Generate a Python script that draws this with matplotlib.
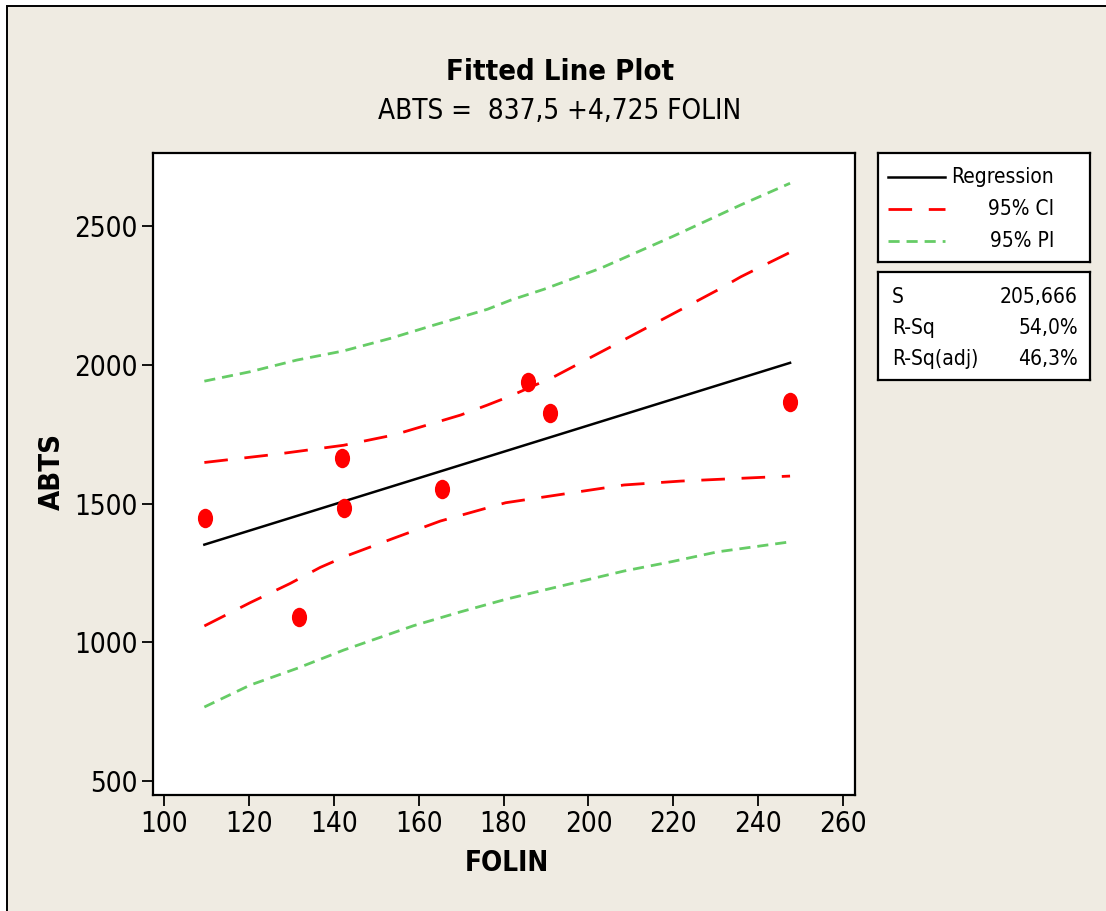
import matplotlib
matplotlib.use("Agg")
import matplotlib.pyplot as plt
from matplotlib import font_manager
from matplotlib.patches import Rectangle
from matplotlib.lines import Line2D
from matplotlib.path import Path
from matplotlib.transforms import Affine2D

# data
folin = [109.7, 131.9, 141.9, 142.3, 165.4, 185.8, 190.9, 247.5]
abts = [1449, 1090, 1663, 1483, 1551, 1937, 1825, 1867]

reg_x = [109.5, 247.5]
reg_y = [1352, 2007]

ci_up_x = [109.5, 126.6, 142.3, 154.1, 169.9, 176.2, 181.7, 191.9, 205.3, 218.6, 230.4, 235.9, 241.4, 247.5]
ci_up_y = [1648, 1678, 1710, 1747, 1819, 1855, 1888, 1957, 2065, 2173, 2269, 2317, 2359, 2405]
ci_lo_x = [109.5, 120.3, 129.7, 136.8, 143.1, 154.1, 165.1, 180.5, 208.4, 221.8, 235.9, 247.5]
ci_lo_y = [1059, 1143, 1212, 1270, 1312, 1375, 1437, 1503, 1567, 1581, 1591, 1599]

pi_up_x = [109.5, 120.3, 131.3, 142.3, 153.3, 163.6, 176.2, 181.7, 189.5, 202.9, 219.8, 235.9, 247.5]
pi_up_y = [1941, 1975, 2017, 2050, 2095, 2143, 2200, 2233, 2272, 2348, 2462, 2576, 2654]
pi_lo_x = [109.5, 120.3, 131.3, 142.3, 158.8, 169.9, 180.5, 191.9, 208.4, 219.4, 230.4, 247.5]
pi_lo_y = [767, 846, 906, 972, 1060, 1110, 1155, 1197, 1257, 1290, 1326, 1362]

xticks = [100, 120, 140, 160, 180, 200, 220, 240, 260]
yticks = [500, 1000, 1500, 2000, 2500]

stats_names = ["S", "R-Sq", "R-Sq(adj)"]
stats_vals = ["205,666", "54,0%", "46,3%"]


def narrow_font(weight):
    # look for a condensed / narrow face among the installed fonts
    best = None
    for f in font_manager.fontManager.ttflist:
        narrow = ("condensed" in str(f.stretch) or "Condensed" in f.name
                  or "Narrow" in f.name or "Condensed" in f.fname)
        if not narrow or f.style != "normal":
            continue
        w = f.weight if isinstance(f.weight, int) else font_manager.weight_dict.get(f.weight, 400)
        if "Semi" in f.fname or "Extra" in f.fname or "Ultra" in f.fname:
            continue
        score = abs(w - weight)
        if best is None or score < best[0]:
            best = (score, f.fname)
    if best is not None:
        return font_manager.FontProperties(fname=best[1])
    return font_manager.FontProperties(family="Liberation Sans",
                                       weight="bold" if weight > 500 else "normal")


REG = narrow_font(400)
BOLD = narrow_font(700)


def fp(base, size):
    p = base.copy()
    p.set_size(size)
    return p


BG = "#efebe2"
RED = "#ff0000"
GREEN = "#66cc66"
W, H = 1106, 911

fig = plt.figure(figsize=(W / 100, H / 100), dpi=100, facecolor="white")
fig.patches.append(Rectangle((7 / W, -0.2), 1.2, 0.2 + (H - 6) / H, transform=fig.transFigure,
                             facecolor=BG, edgecolor="black", linewidth=1.4, zorder=-10))

ax = fig.add_axes([153 / W, 1 - 795 / H, 702 / W, 642 / H])
ax.set_facecolor("white")
ax.plot(pi_up_x, pi_up_y, color=GREEN, lw=2, dashes=(4, 2.5))
ax.plot(pi_lo_x, pi_lo_y, color=GREEN, lw=2, dashes=(4, 2.5))
ax.plot(ci_up_x, ci_up_y, color=RED, lw=2, dashes=(8.5, 6))
ax.plot(ci_lo_x, ci_lo_y, color=RED, lw=2, dashes=(8.5, 6))
ax.plot(reg_x, reg_y, color="black", lw=1.8)

ell = Path.unit_circle().transformed(Affine2D().scale(0.78, 1.0))
ax.plot(folin, abts, linestyle="none", marker=ell, markersize=14,
        color=RED, markeredgewidth=0)

ax.set_xlim(97.4, 262.8)
ax.set_ylim(450, 2763)
ax.set_xticks(xticks)
ax.set_yticks(yticks)
ax.tick_params(direction="out", length=8, width=1.3, pad=3, colors="black")
for lab in ax.get_xticklabels() + ax.get_yticklabels():
    lab.set_fontproperties(fp(REG, 20))
for s in ax.spines.values():
    s.set_linewidth(1.6)

fig.text(560 / W, 1 - 72 / H, "Fitted Line Plot", ha="center", va="center",
         fontproperties=fp(BOLD, 21))
fig.text(560 / W, 1 - 111 / H, "ABTS =  837,5 +4,725 FOLIN", ha="center", va="center",
         fontproperties=fp(REG, 20))
fig.text(52 / W, 1 - 472 / H, "ABTS", rotation=90, ha="center", va="center",
         fontproperties=fp(BOLD, 21))
fig.text(507 / W, 1 - 863 / H, "FOLIN", ha="center", va="center",
         fontproperties=fp(BOLD, 20))

# legend box
lg = fig.add_axes([878 / W, 1 - 262 / H, 212 / W, 109 / H])
lg.set_xlim(0, 212)
lg.set_ylim(109, 0)
lg.set_xticks([])
lg.set_yticks([])
for s in lg.spines.values():
    s.set_linewidth(1.6)
rows = [("Regression", "black", None), ("95% CI", RED, (8.5, 6)), ("95% PI", GREEN, (4, 2.5))]
for i, (lab, c, d) in enumerate(rows):
    yy = 24 + i * 32
    ln = Line2D([10, 67], [yy, yy], color=c, lw=1.8 if d is None else 2)
    if d is not None:
        ln.set_dashes(d)
    lg.add_line(ln)
    lg.text(176, yy, lab, ha="right", va="center", fontproperties=fp(REG, 15))

# stats box
st = fig.add_axes([878 / W, 1 - 380 / H, 212 / W, 108 / H])
st.set_xlim(0, 212)
st.set_ylim(108, 0)
st.set_xticks([])
st.set_yticks([])
for s in st.spines.values():
    s.set_linewidth(1.6)
for i, (n, v) in enumerate(zip(stats_names, stats_vals)):
    yy = 25 + i * 31
    st.text(14, yy, n, ha="left", va="center", fontproperties=fp(REG, 15))
    st.text(200, yy, v, ha="right", va="center", fontproperties=fp(REG, 15))

fig.savefig("out.png", dpi=100, facecolor=fig.get_facecolor())
